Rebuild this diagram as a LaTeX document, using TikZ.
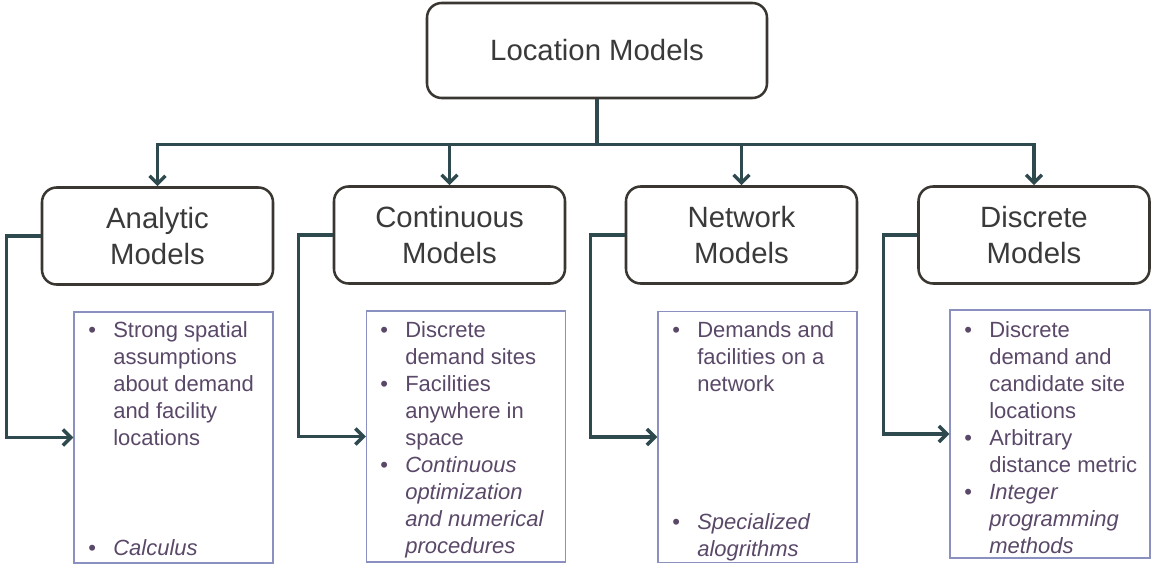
\documentclass[tikz,border=0pt]{standalone}
\usepackage{fontspec}
\setmainfont{Liberation Sans}
\usetikzlibrary{arrows.meta}
\definecolor{linkc}{HTML}{2F4A4E}
\definecolor{boxc}{HTML}{3A3733}
\definecolor{detc}{HTML}{8A90C0}
\definecolor{txtc}{HTML}{3A3A3A}
\definecolor{itemc}{HTML}{5A4868}
\newcommand{\bul}{\makebox[18.75pt][l]{\textbullet}}
\newcommand{\ind}{\hspace*{18.75pt}}
\tikzset{>={Straight Barb[length=6pt,width=12pt]}}

\begin{document}
\begin{tikzpicture}[x=0.75pt,y=-0.75pt,
    hbox/.style={draw=boxc,line width=1.9pt,rounded corners=11pt,text=txtc,align=center,
      font=\fontsize{22}{27}\selectfont},
    dbox/.style={draw=detc,line width=1.1pt,minimum width=149.25pt,minimum height=188.25pt},
    dtext/.style={anchor=north west,inner sep=0pt,align=left,text=itemc,
      font=\fontsize{16.5}{20.25}\selectfont},
    link/.style={draw=linkc,line width=2.6pt}]
    \useasboundingbox (0,0) rectangle (1153,567);

    % top
    \node[hbox,minimum width=255pt,minimum height=71.25pt] (loc) at (597,50.5) {Location Models};

    % model classes
    \node[hbox,minimum width=173.25pt,minimum height=72.75pt] (ana) at (157.5,236) {Analytic\\Models};
    \node[hbox,minimum width=173.25pt,minimum height=72.75pt] (con) at (449.5,235) {Continuous\\Models};
    \node[hbox,minimum width=173.25pt,minimum height=72.75pt] (net) at (741.5,235) {Network\\Models};
    \node[hbox,minimum width=173.25pt,minimum height=72.75pt] (dis) at (1034,235) {Discrete\\Models};

    % detail boxes
    \node[dbox] (dana) at (173.5,437.5) {};
    \node[dbox] (dcon) at (466,436.5) {};
    \node[dbox] (dnet) at (757.5,437) {};
    \node[dbox,minimum width=150pt,minimum height=186pt] (ddis) at (1050,434) {};

    \node[dtext] (tana) at (88,321) {\bul Strong spatial\\\ind assumptions\\\ind about demand\\\ind and facility\\\ind locations};
    \node[dtext] (tana2) at (88,539) {\bul\textit{Calculus}};
    \node[dtext] (tcon) at (380,321) {\bul Discrete\\\ind demand sites\\\bul Facilities\\\ind anywhere in\\\ind space\\
      \bul\textit{Continuous}\\\ind\textit{optimization}\\\ind\textit{and numerical}\\\ind\textit{procedures}};
    \node[dtext] (tnet) at (672,321) {\bul Demands and\\\ind facilities on a\\\ind network};
    \node[dtext] (tnet2) at (672,513) {\bul\textit{Specialized}\\\ind\textit{alogrithms}};
    \node[dtext] (tdis) at (964,321) {\bul Discrete\\\ind demand and\\\ind candidate site\\\ind locations\\
      \bul Arbitrary\\\ind distance metric\\\bul\textit{Integer}\\\ind\textit{programming}\\\ind\textit{methods}};

    % connectors
    \draw[link,line width=3.5pt] (loc.south) -- ++(0,45) coordinate (hub);
    \foreach \m in {ana,con,net,dis}
      \draw[link,->] (hub) -| (\m.north);
    \foreach \m in {ana,con,net,dis}
      \draw[link,->] (\m.west) -- ++(-34,0) |- (d\m.west);
\end{tikzpicture}
\end{document}
